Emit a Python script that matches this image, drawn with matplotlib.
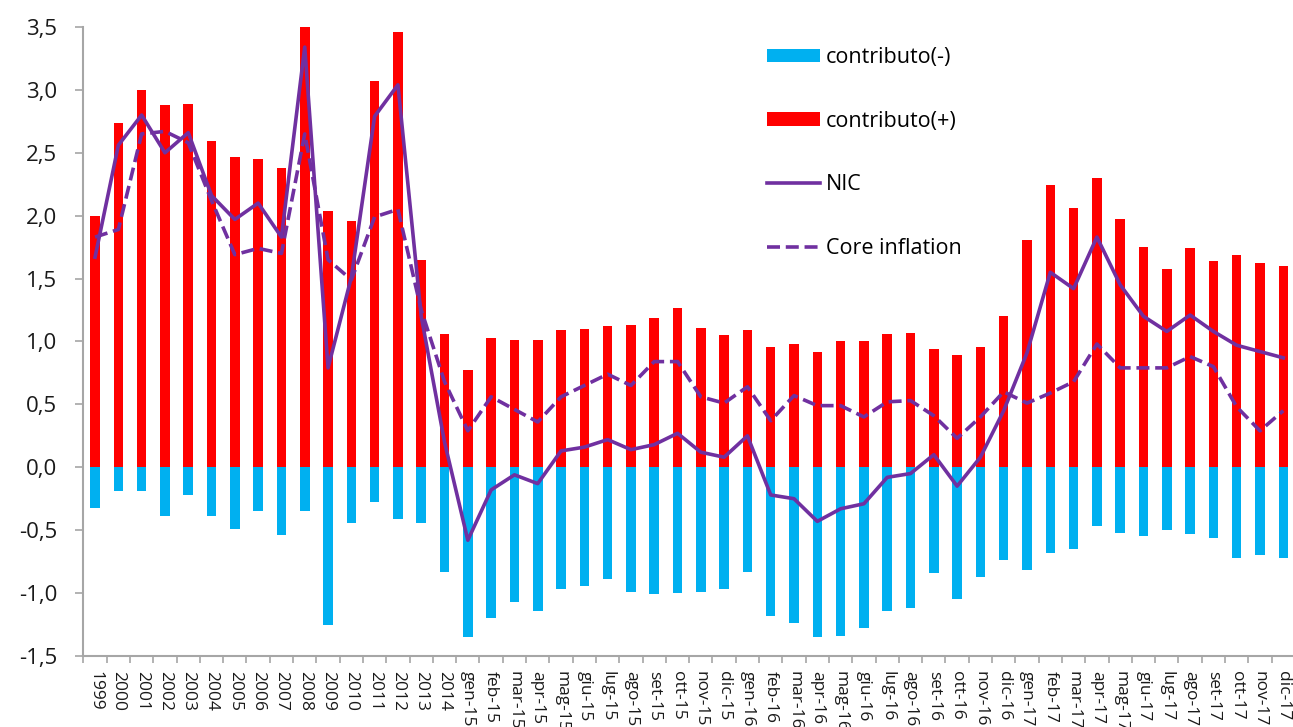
import matplotlib
matplotlib.use("Agg")
import matplotlib.pyplot as plt
import numpy as np

categories = ["1999", "2000", "2001", "2002", "2003", "2004", "2005", "2006", "2007",
              "2008", "2009", "2010", "2011", "2012", "2013", "2014",
              "gen-15", "feb-15", "mar-15", "apr-15", "mag-15", "giu-15", "lug-15",
              "ago-15", "set-15", "ott-15", "nov-15", "dic-15",
              "gen-16", "feb-16", "mar-16", "apr-16", "mag-16", "giu-16", "lug-16",
              "ago-16", "set-16", "ott-16", "nov-16", "dic-16",
              "gen-17", "feb-17", "mar-17", "apr-17", "mag-17", "giu-17", "lug-17",
              "ago-17", "set-17", "ott-17", "nov-17", "dic-17"]

contrib_pos = [2.00, 2.74, 3.00, 2.88, 2.89, 2.59, 2.47, 2.45, 2.38, 3.50, 2.04, 1.96,
               3.07, 3.46, 1.65, 1.06,
               0.77, 1.03, 1.01, 1.01, 1.09, 1.10, 1.12, 1.13, 1.19, 1.27, 1.11, 1.05,
               1.09, 0.96, 0.98, 0.92, 1.00, 1.00, 1.06, 1.07, 0.94, 0.89, 0.96, 1.20,
               1.81, 2.24, 2.06, 2.30, 1.97, 1.75, 1.58, 1.74, 1.64, 1.69, 1.62, 1.60]

contrib_neg = [-0.32, -0.19, -0.19, -0.39, -0.22, -0.39, -0.49, -0.35, -0.54, -0.35,
               -1.25, -0.44, -0.28, -0.41, -0.44, -0.83,
               -1.35, -1.20, -1.07, -1.14, -0.97, -0.94, -0.89, -0.99, -1.01, -1.00,
               -0.99, -0.97,
               -0.83, -1.18, -1.24, -1.35, -1.34, -1.28, -1.14, -1.12, -0.84, -1.05,
               -0.87, -0.74,
               -0.82, -0.68, -0.65, -0.47, -0.52, -0.55, -0.50, -0.53, -0.56, -0.72,
               -0.70, -0.72]

nic = [1.67, 2.56, 2.80, 2.50, 2.66, 2.16, 1.97, 2.10, 1.83, 3.34, 0.79, 1.51,
       2.79, 3.04, 1.20, 0.20,
       -0.58, -0.18, -0.06, -0.13, 0.13, 0.16, 0.22, 0.14, 0.18, 0.27, 0.12, 0.08,
       0.25, -0.22, -0.25, -0.43, -0.33, -0.29, -0.08, -0.05, 0.10, -0.15, 0.08, 0.45,
       0.91, 1.55, 1.42, 1.83, 1.45, 1.20, 1.08, 1.21, 1.08, 0.97, 0.92, 0.87]

core = [1.83, 1.89, 2.65, 2.67, 2.58, 2.12, 1.69, 1.74, 1.70, 2.65, 1.65, 1.49,
        1.99, 2.05, 1.25, 0.68,
        0.29, 0.56, 0.46, 0.36, 0.56, 0.65, 0.74, 0.65, 0.84, 0.84, 0.56, 0.51,
        0.64, 0.37, 0.57, 0.49, 0.49, 0.40, 0.52, 0.53, 0.41, 0.23, 0.40, 0.60,
        0.51, 0.59, 0.68, 0.98, 0.79, 0.79, 0.79, 0.88, 0.80, 0.48, 0.29, 0.45]

y_ticks = [-1.5, -1.0, -0.5, 0.0, 0.5, 1.0, 1.5, 2.0, 2.5, 3.0, 3.5]
y_ticklabels = ["-1,5", "-1,0", "-0,5", "0,0", "0,5", "1,0", "1,5", "2,0", "2,5", "3,0", "3,5"]

plt.rcParams['font.family'] = ['Open Sans', 'DejaVu Sans']

fig = plt.figure(figsize=(12.93, 7.27), dpi=100)
ax = fig.add_axes([0.0645, 0.0977, 0.937, 0.8652])

x = np.arange(len(categories))
purple = "#7030A0"
h_neg = ax.bar(x, contrib_neg, width=0.41, color="#00B0F0", label="contributo(-)", zorder=2)
h_pos = ax.bar(x, contrib_pos, width=0.41, color="#FF0000", label="contributo(+)", zorder=2)
h_nic, = ax.plot(x, nic, color=purple, lw=2.6, label="NIC", zorder=3, solid_joinstyle="round")
h_core, = ax.plot(x, core, color=purple, lw=2.6, ls=(0, (3.6, 1.6)), label="Core inflation", zorder=3)

ax.set_xlim(-0.5, len(categories) - 0.5)
ax.set_ylim(-1.5, 3.5)
ax.set_yticks(y_ticks)
ax.set_yticklabels(y_ticklabels, fontsize=16, color="#1a1a1a")
ax.set_xticks(x)
ax.set_xticklabels(categories, rotation=270, fontsize=12.5, color="#1a1a1a")
ax.set_xticks(np.arange(-0.5, len(categories), 1.0), minor=True)
ax.tick_params(axis="x", which="major", length=0, pad=11)
ax.tick_params(axis="x", which="minor", length=5, width=1.2, color="#A6A6A6", direction="out")
ax.tick_params(axis="y", length=6, width=1.2, color="#A6A6A6", direction="out", pad=13)

for s in ["top", "right"]:
    ax.spines[s].set_visible(False)
for s in ["left", "bottom"]:
    ax.spines[s].set_color("#A6A6A6")
    ax.spines[s].set_linewidth(1.5)

leg = ax.legend([h_neg, h_pos, h_nic, h_core],
                ["contributo(-)", "contributo(+)", "NIC", "Core inflation"],
                loc="upper left", bbox_to_anchor=(767 / 1293, 1 - 47 / 727),
                bbox_transform=fig.transFigure, frameon=False, fontsize=15.5,
                labelspacing=1.98, handlelength=2.45, handleheight=0.6, handletextpad=0.3,
                borderpad=0, borderaxespad=0)

fig.savefig("out.png", dpi=100)
